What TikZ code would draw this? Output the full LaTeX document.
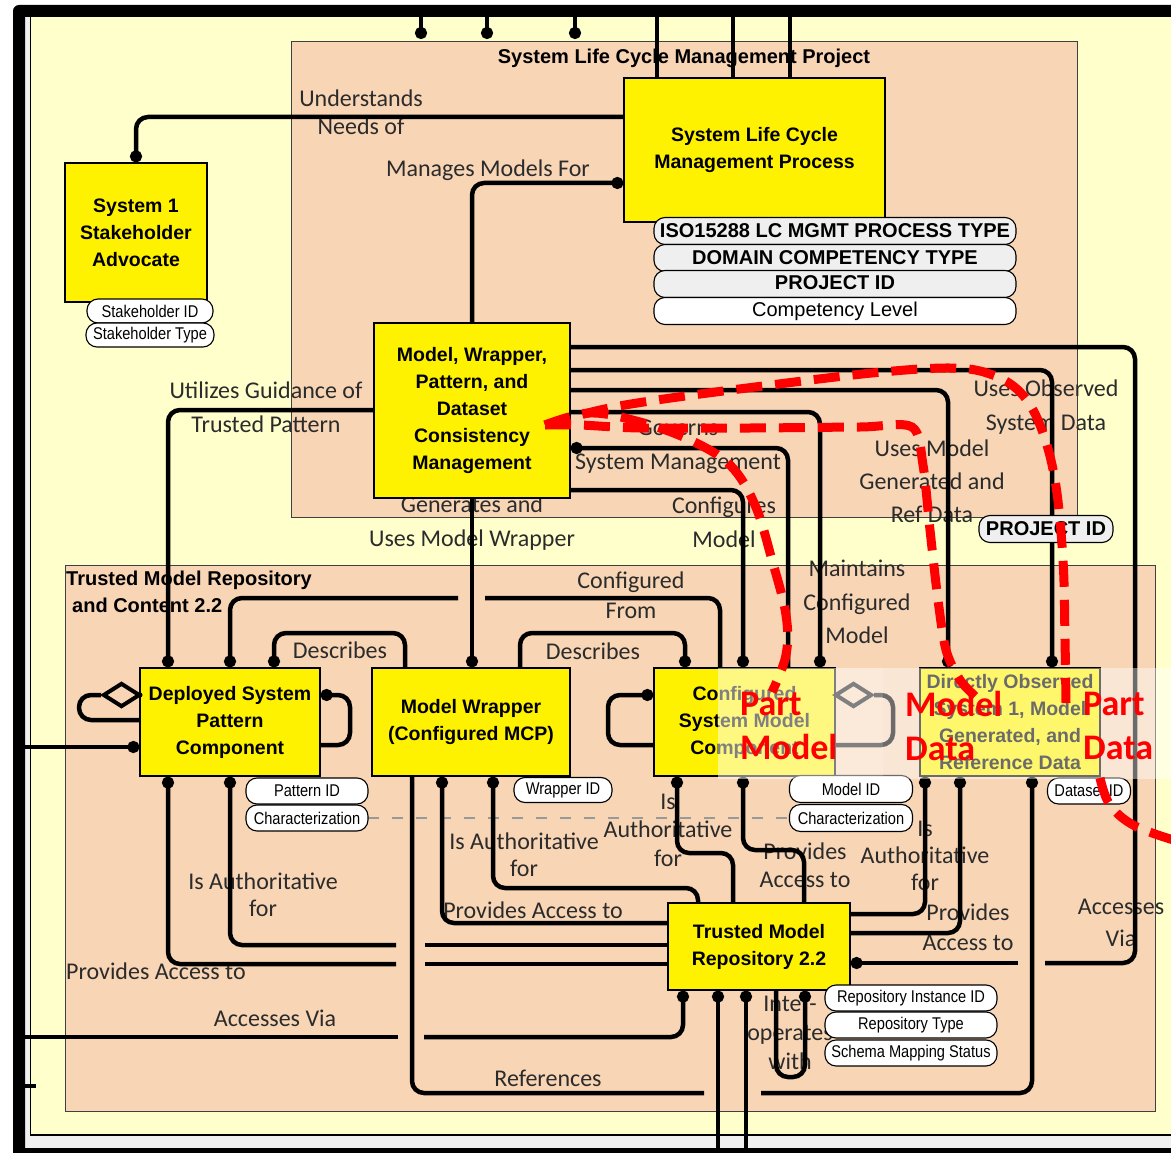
\documentclass[tikz,border=0pt]{standalone}
\usepackage{fontspec}
\setmainfont{Liberation Sans}
\newfontfamily\carlito{Carlito}
\newfontfamily\narrowfont[FakeStretch=0.86]{Liberation Sans}
\usetikzlibrary{arrows.meta,shapes.geometric,calc}
\definecolor{bgyel}{HTML}{FFFFCC}
\definecolor{peach}{HTML}{F8D5B5}
\definecolor{pillgrey}{HTML}{EFEFEF}
\definecolor{labgrey}{HTML}{2B2B2B}
\newcommand\lf[1]{\carlito\fontsize{24}{#1}\selectfont}
\tikzset{
 box/.style={draw=black, line width=1.2pt, fill=yellow, align=center, font=\fontsize{19.5}{27}\selectfont\bfseries, inner sep=0pt},
 region/.style={draw=black!75, line width=1pt, fill=peach},
 pill/.style={draw=black, line width=1.1pt, fill=white, rounded corners=11pt, inner sep=0pt, font=\narrowfont\fontsize{17}{20}\selectfont},
 bigpill/.style={pill, fill=pillgrey, font=\fontsize{20}{22}\selectfont\bfseries},
 lab/.style={align=center, text=labgrey, inner sep=0pt},
 conn/.style={draw=black, line width=4.5pt, rounded corners=12pt},
 dotend/.style={-{Circle[length=12pt,width=12pt]}},
 dotstart/.style={{Circle[length=12pt,width=12pt]}-},
 dia/.style={diamond, draw=black, line width=4pt, minimum width=37pt, minimum height=24pt, inner sep=0pt},
 reddash/.style={draw=red, line width=9pt, dash pattern=on 26pt off 13pt},
 redtxt/.style={text=red, font=\carlito\bfseries\fontsize{36}{44}\selectfont, align=left, anchor=west, inner sep=0pt},
 ttl/.style={font=\fontsize{20}{27}\selectfont\bfseries, inner sep=0pt},
}
\begin{document}
\begin{tikzpicture}[x=1pt,y=-1pt]
\useasboundingbox (0,0) rectangle (1171,1153);
% ---------- frame and backgrounds ----------
\fill[white] (0,0) rectangle (1171,1153);
\fill[bgyel] (30,17) rectangle (1171,1135);
\fill[black!6] (25,17) rectangle (30,1148);
\fill[black!6] (25,1135) rectangle (1171,1148);
\draw[black, line width=1.5pt] (30.5,17) -- (30.5,1135) -- (1171,1135);
\fill[black] (13,1153) [rounded corners=6pt] -- (13,5) [sharp corners] -- (1171,5) -- (1171,17) -- (25,17) -- (25,1153) -- cycle;
\fill[black] (13,1148) rectangle (1171,1153);
% regions
\draw[region] (291,42) rectangle (1077,517);
\draw[region] (65,565) rectangle (1155,1111);
\node[ttl] (tproj) at (684,58) {System Life Cycle Management Project};
\node[ttl, align=left, anchor=north west] (ttmr) at (66,571) {Trusted Model Repository\\\hspace*{6pt}and Content 2.2};
% ---------- connector labels ----------
\node[lab, font=\lf{28}] (lund) at (361,112) {Understands\\Needs of};
\node[lab, font=\lf{28}] (lmmf) at (488,170) {Manages Models For};
\node[lab, font=\lf{34}] (lugt) at (266,407) {Utilizes Guidance of\\Trusted Pattern};
\node[lab, font=\lf{34}] (lgen) at (472,523) {Generates and\\Uses Model Wrapper};
\node[lab, font=\lf{34}] (lgov) at (678,447) {Governs\\System Management};
\node[lab, font=\lf{34}] (lcfg) at (724,522) {Configures\\Model};
\node[lab, font=\lf{34}] (luos) at (1046,407) {Uses Observed\\System Data};
\node[lab, font=\lf{33}] (lumg) at (932,481) {Uses Model\\Generated and\\Ref Data};
\node[lab, font=\lf{33.5}] (lmcm) at (857,602) {Maintains\\Configured\\Model};
\node[lab, font=\lf{30}] (lcf) at (631,595) {Configured\\From};
\node[lab, font=\lf{28}] (ld1) at (340,650) {Describes};
\node[lab, font=\lf{28}] (ld2) at (593,651) {Describes};
\node[lab, font=\lf{27}] (lia1) at (263,895) {Is Authoritative\\for};
\node[lab, font=\lf{28}, anchor=west] (lpa1) at (66,971) {Provides Access to};
\node[lab, font=\lf{28}] (lav1) at (275,1018) {Accesses Via};
\node[lab, font=\lf{27}] (lia2) at (524,855) {Is Authoritative\\for};
\node[lab, font=\lf{28}] (lpa2) at (533,910) {Provides Access to};
\node[lab, font=\lf{28.5}] (lia3) at (668,830) {Is\\Authoritative\\for};
\node[lab, font=\lf{28}] (lpa3) at (805,865) {Provides\\Access to};
\node[lab, font=\lf{27}] (lia4) at (925,856) {Is\\Authoritative\\for};
\node[lab, font=\lf{30}] (lpa4) at (968,927) {Provides\\Access to};
\node[lab, font=\lf{32}] (lav2) at (1121,923) {Accesses\\Via};
\node[lab, font=\lf{28}] (lref) at (548,1078) {References};
\node[lab, font=\lf{29}] (liop) at (790,1033) {Inter-\\operates\\with};
% ---------- boxes ----------
\node[box, minimum width=261pt, minimum height=144pt] (slcmp) at (754.5,150) {System Life Cycle\\Management Process};
\node[box, minimum width=142pt, minimum height=139pt] (sh) at (136,232.5) {System 1\\Stakeholder\\Advocate};
\node[box, minimum width=196pt, minimum height=175pt] (mwp) at (472,410.5) {Model, Wrapper,\\Pattern, and\\Dataset\\Consistency\\Management};
\node[box, minimum width=180pt, minimum height=108pt] (dspc) at (230,722) {Deployed System\\Pattern\\Component};
\node[box, minimum width=198pt, minimum height=108pt] (mw) at (471,722) {Model Wrapper\\(Configured MCP)};
\node[box, minimum width=181pt, minimum height=108pt] (csmc) at (744.5,722) {Configured\\System Model\\Component};
\node[box, minimum width=180pt, minimum height=108pt] (dos) at (1010,722) {Directly Observed\\System 1, Model\\Generated, and\\Reference Data};
\node[box, minimum width=182pt, minimum height=87pt] (tmr) at (759,946.5) {Trusted Model\\Repository 2.2};
% ---------- coordinates ----------
\coordinate (g1l) at (458,598); \coordinate (g1r) at (485,598);
\coordinate (g2l) at (396,945); \coordinate (g2r) at (425,945);
\coordinate (g3l) at (396,964); \coordinate (g3r) at (425,964);
\coordinate (g4l) at (398,1037); \coordinate (g4r) at (424,1037);
\coordinate (g5l) at (704,1093); \coordinate (g5r) at (761,1093);
\coordinate (g6l) at (1018,963); \coordinate (g6r) at (1045,963);
\coordinate (fl1) at (25,747); \coordinate (fl2) at (25,1037);
\coordinate (fl3) at (25,1086); \coordinate (fl3e) at (36,1086);
\coordinate (bt1) at (718,1153); \coordinate (bt2) at (746,1153);
% grey dashed line
\draw[gray!80, line width=2pt, dash pattern=on 11pt off 13pt] (368,818) -- (790,818);
% ---------- connectors ----------
\foreach \x/\n in {421/a,487/b,575/c} {
  \coordinate (top\n) at (\x,17); \coordinate (stub\n) at (\x,39);
  \draw[conn,dotend] (top\n) -- (stub\n);}
\foreach \x/\n in {657/d,733/e,790/f} {
  \coordinate (top\n) at (\x,17);
  \draw[conn] (top\n) -- (top\n |- slcmp.north);}
\draw[conn,dotend] (slcmp.west |- 0,117) -| (sh.north);
\draw[conn,dotstart] (slcmp.west |- 0,183) -| (mwp.north);
\draw[conn,dotend] (mwp.west |- 0,410) -| (dspc.north -| 168,0);
\draw[conn,dotend] (mwp.south) -- (mwp.south |- mw.north);
\draw[conn] (mwp.east |- 0,347) -- (1135,347) -- (1135,963) -- (g6r);
\draw[conn,dotend] (g6l) -- (tmr.east |- g6l);
\draw[conn,dotend] (mwp.east |- 0,370) -| (dos.north -| 1052,0);
\draw[conn,dotend] (mwp.east |- 0,390) -| (dos.north -| 948,0);
\draw[conn,dotend] (mwp.east |- 0,412) -| (csmc.north -| 820,0);
\draw[conn,dotstart] (mwp.east |- 0,448) -| (csmc.north -| 788,0);
\draw[conn,dotend] (mwp.east |- 0,490) -| (csmc.north -| 743,0);
\draw[conn,dotstart] (dspc.north -| 230,0) |- (g1l);
\draw[conn] (g1r) -| (csmc.north -| 720,0);
\draw[conn,dotstart] (dspc.north -| 274,0) -- (274,633) -| (mw.north -| 405,0);
\draw[conn,dotend] (mw.north -| 520,0) -- (520,633) -| (csmc.north -| 685,0);
% DSPC loops
\draw[conn,dotstart] (dspc.east |- 0,695) -- (350,695) -- (350,745) -- (dspc.east |- 0,745);
\node[dia] (dia1) at (121.5,695) {};
\draw[conn] (dspc.west |- 0,695) -- (dia1.east);
\draw[conn] (dia1.west) -- (79,695) -- (79,720) -- (dspc.west |- 0,720);
\draw[conn,dotend] (fl1) -- (dspc.west |- fl1);
% DSPC bottom
\draw[conn,dotstart] (dspc.south -| 230,0) |- (g2l);
\draw[conn] (g2r) -- (tmr.west |- g2r);
\draw[conn,dotstart] (dspc.south -| 168,0) |- (g3l);
\draw[conn] (g3r) -- (tmr.west |- g3r);
% MW bottom
\draw[conn] (mw.south -| 412,0) |- (g5l);
\draw[conn,dotend] (g5r) -| (dos.south -| 1032,0);
\draw[conn,dotstart] (mw.south -| 442,0) |- (tmr.west |- 0,923);
\draw[conn,dotstart] (mw.south -| 493,0) -- (493,888) -| (tmr.north -| 698,0);
% CSMC loops and bottom
\draw[conn,dotstart] (csmc.west |- 0,695) -- (608,695) -- (608,745) -- (csmc.west |- 0,745);
\node[dia] (dia2) at (853.5,695) {};
\draw[conn] (dia2.east) -- (893,695) -- (893,745) -- (csmc.east |- 0,745);
\draw[conn,dotstart] (csmc.south -| 677,0) -- (677,853) -| (tmr.north -| 733,0);
\draw[conn,dotstart] (csmc.south -| 743,0) -- (743,850) -| (tmr.north -| 804,0);
% TMR
\draw[conn,dotend] (tmr.east |- 0,914) -| (dos.south -| 925,0);
\draw[conn,dotend] (tmr.east |- 0,933) -| (dos.south -| 960,0);
\draw[conn,dotstart] (tmr.south -| 683,0) |- (g4r);
\draw[conn] (g4l) -- (fl2);
\draw[conn] (fl3) -- (fl3e);
\draw[conn,dotstart] (tmr.south -| 718,0) -- (bt1);
\draw[conn,dotstart] (tmr.south -| 746,0) -- (bt2);
\draw[conn,dotend] (tmr.south -| 776,0) -- (776,1077) -- (805,1077) -- (tmr.south -| 805,0);
% ---------- attribute pills ----------
\node[bigpill, minimum width=362pt, minimum height=27pt] (iso) at (835,231) {ISO15288 LC MGMT PROCESS TYPE};
\node[bigpill, minimum width=362pt, minimum height=27pt] (dom) at (835,258) {DOMAIN COMPETENCY TYPE};
\node[bigpill, minimum width=362pt, minimum height=27pt] (pid) at (835,284) {\raisebox{3pt}{PROJECT ID}};
\node[pill, font=\fontsize{20}{22}\selectfont, minimum width=362pt, minimum height=27pt] (comp) at (835,311) {Competency Level};
\node[pill, minimum width=126pt, minimum height=24pt] (shid) at (150,311) {Stakeholder ID};
\node[pill, minimum width=128pt, minimum height=24pt] (shtype) at (150,335) {Stakeholder Type};
\node[pill, minimum width=122pt, minimum height=26pt] (patid) at (307,791) {Pattern ID};
\node[pill, minimum width=122pt, minimum height=26pt] (char1) at (307,818) {Characterization};
\node[pill, minimum width=98pt, minimum height=25pt] (wrid) at (563,790) {Wrapper ID};
\node[pill, minimum width=123pt, minimum height=27pt] (modid) at (851,789) {Model ID};
\node[pill, minimum width=123pt, minimum height=27pt] (char2) at (851,818) {Characterization};
\node[pill, minimum width=83pt, minimum height=26pt] (dsid) at (1089,791) {Dataset ID};
\node[pill, minimum width=172pt, minimum height=26pt] (rinst) at (911,998) {Repository Instance ID};
\node[pill, minimum width=172pt, minimum height=26pt] (rtype) at (911,1025) {Repository Type};
\node[pill, minimum width=172pt, minimum height=26pt] (rschema) at (911,1053) {Schema Mapping Status};
\node[bigpill, minimum width=134pt, minimum height=27pt] (pid2) at (1046,529) {PROJECT ID};
% ---------- translucent overlay ----------
\fill[white, opacity=0.5] (718,668) rectangle (883,779);
\fill[white, opacity=0.42] (883,668) rectangle (1171,779);
% ---------- red annotation ----------
\coordinate (rs) at (545,425);
\draw[reddash] plot[smooth, tension=0.6] coordinates {(545,425) (590,413) (640,422) (690,440) (730,465) (755,505) (772,560) (786,615) (786,655) (772,692)};
\draw[reddash] plot[smooth, tension=0.5] coordinates {(545,425) (580,425) (640,428) (750,428) (860,427) (912,427) (923,465) (930,530) (938,600) (946,650) (960,680) (977,698)};
\draw[reddash] plot[smooth, tension=0.6] coordinates {(545,425) (600,410) (657,400) (755,387) (872,373) (950,368) (990,374) (1020,392) (1040,425) (1055,480) (1063,560) (1065,640) (1066,703)};
\draw[reddash] plot[smooth, tension=0.6] coordinates {(1100,778) (1110,805) (1135,826) (1180,842)};
\node[redtxt] (rt1) at (740,726) {Part\\Model};
\node[redtxt] (rt2) at (905,726) {Model\\Data};
\node[redtxt] (rt3) at (1083,726) {Part\\Data};
\end{tikzpicture}
\end{document}
